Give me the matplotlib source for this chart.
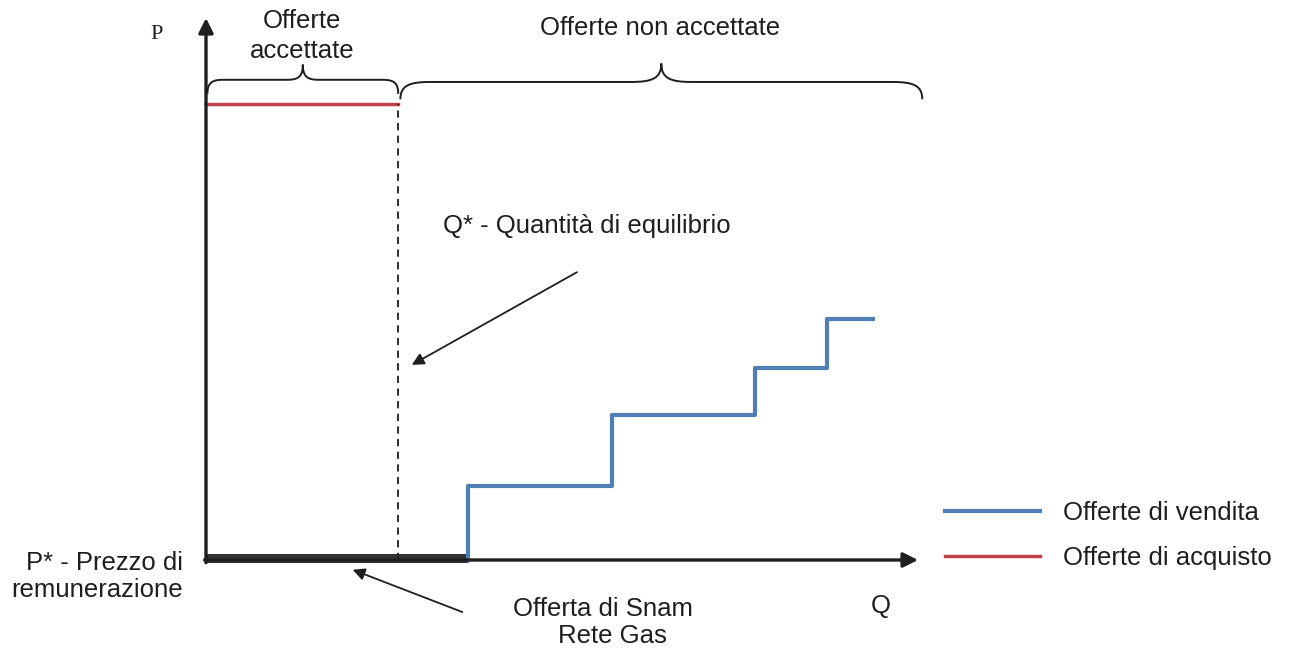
import matplotlib.pyplot as plt
from matplotlib.path import Path
from matplotlib.patches import PathPatch

plt.rcParams['font.family'] = ['Liberation Sans', 'DejaVu Sans']

# schematic values, Q and P both on a 0-100 scale
q_star = 27.0          # Q* - equilibrium quantity
p_buy = 84.1           # level of the purchase offers
snam_q = 36.8          # Snam Rete Gas offer at P* (= 0)
sell_q = [36.8, 36.8, 57.0, 77.1, 87.2, 93.7]   # selling offers (step curve)
sell_p = [0.0, 13.7, 26.8, 35.4, 44.5, 44.5]

blue = '#4f7fb5'
red = '#c0414b'
dark = '#1e1e1e'
fs = 18.5


def brace(ax, q0, q1, p_end, p_flat, p_tip, r):
    qm = (q0 + q1) / 2
    dp = p_flat - p_end
    dt = p_tip - p_flat
    verts = [(q0, p_end), (q0, p_end + dp * 0.8), (q0 + r * 0.3, p_flat), (q0 + r, p_flat),
             (qm - r, p_flat),
             (qm - r * 0.3, p_flat), (qm, p_flat + dt * 0.2), (qm, p_tip),
             (qm, p_flat + dt * 0.2), (qm + r * 0.3, p_flat), (qm + r, p_flat),
             (q1 - r, p_flat),
             (q1 - r * 0.3, p_flat), (q1, p_end + dp * 0.8), (q1, p_end)]
    codes = [Path.MOVETO, Path.CURVE4, Path.CURVE4, Path.CURVE4,
             Path.LINETO,
             Path.CURVE4, Path.CURVE4, Path.CURVE4,
             Path.CURVE4, Path.CURVE4, Path.CURVE4,
             Path.LINETO,
             Path.CURVE4, Path.CURVE4, Path.CURVE4]
    ax.add_patch(PathPatch(Path(verts, codes), fill=False, lw=1.4, ec=dark, clip_on=False))


fig = plt.figure(figsize=(12.92, 6.56), dpi=100)
fig.patch.set_facecolor('white')
ax = fig.add_axes([206 / 1292, 96 / 656, 712 / 1292, 542 / 656])
ax.set_xlim(0, 100)
ax.set_ylim(0, 100)
ax.axis('off')

# axes with arrows
ax.annotate('', xy=(0, 100), xytext=(0, -0.5), annotation_clip=False,
            arrowprops=dict(arrowstyle='-|>', lw=2.4, color=dark, mutation_scale=22, shrinkA=0, shrinkB=0))
ax.annotate('', xy=(100, 0), xytext=(-0.2, 0), annotation_clip=False,
            arrowprops=dict(arrowstyle='-|>', lw=2.4, color=dark, mutation_scale=22, shrinkA=0, shrinkB=0))

# offers
ax.plot([0, snam_q], [0.4, 0.4], color='#333333', lw=6.5, solid_capstyle='butt', clip_on=False)
ax.plot(sell_q, sell_p, drawstyle='steps-post', color=blue, lw=3, clip_on=False, label='Offerte di vendita')
ax.plot([0, q_star], [p_buy, p_buy], color=red, lw=2.5, clip_on=False, label='Offerte di acquisto')
ax.plot([q_star, q_star], [0, p_buy], color=dark, lw=1.3, ls=(0, (4, 3)), clip_on=False)

# braces
brace(ax, 0.2, q_star, 86.0, 88.6, 91.4, 2.2)
brace(ax, q_star + 0.3, 100.6, 85.0, 88.2, 91.6, 4.2)

# labels
ax.text(-6.9, 97.0, 'P', family='Liberation Serif', fontsize=16, ha='center', va='center', color=dark)
ax.text(13.5, 96.7, 'Offerte\naccettate', fontsize=fs, ha='center', va='center', linespacing=1.35, color=dark)
ax.text(63.8, 98.2, 'Offerte non accettate', fontsize=fs, ha='center', va='center', color=dark)
ax.text(33.3, 61.6, 'Q* - Quantità di equilibrio', fontsize=fs, ha='left', va='center', color=dark)
ax.text(-3.2, -3.1, 'P* - Prezzo di\nremunerazione', fontsize=fs, ha='right', va='center',
        multialignment='right', linespacing=1.15, color=dark)
ax.text(55.7, -9.0, 'Offerta di Snam', fontsize=fs, ha='center', va='center', color=dark)
ax.text(57.1, -14.1, 'Rete Gas', fontsize=fs, ha='center', va='center', color=dark)
ax.text(94.7, -8.5, 'Q', fontsize=fs, ha='center', va='center', color=dark)

# pointer arrows
ax.annotate('', xy=(28.9, 36.0), xytext=(52.1, 53.1), annotation_clip=False,
            arrowprops=dict(arrowstyle='-|>', lw=1.3, color=dark, mutation_scale=18, shrinkA=0, shrinkB=0))
ax.annotate('', xy=(20.6, -1.8), xytext=(36.0, -9.6), annotation_clip=False,
            arrowprops=dict(arrowstyle='-|>', lw=1.3, color=dark, mutation_scale=18, shrinkA=0, shrinkB=0))

ax.legend(loc='center left', bbox_to_anchor=(945 / 1292, 120.5 / 656), bbox_transform=fig.transFigure,
          frameon=False, fontsize=fs, handlelength=3.7, handletextpad=0.9, labelspacing=0.8,
          borderpad=0, borderaxespad=0, labelcolor=dark)

fig.savefig('out.png', dpi=100, facecolor='white')
